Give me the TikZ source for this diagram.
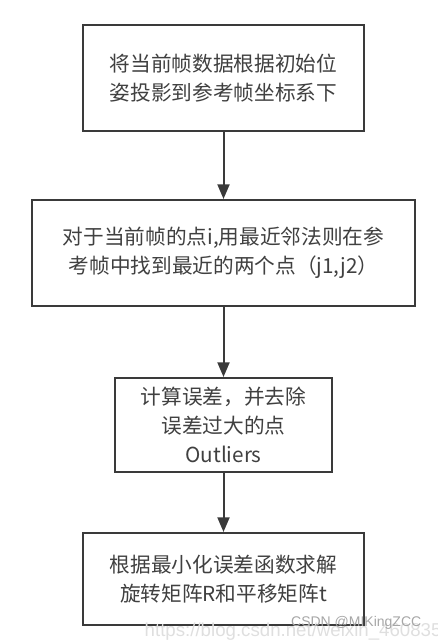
\documentclass[tikz,border=0pt]{standalone}
\usepackage{fontspec}
\setmainfont{Noto Sans CJK SC}
\newfontfamily\markfont{Liberation Sans}
\usetikzlibrary{arrows.meta}

\definecolor{boxline}{HTML}{3A3A3A}
\definecolor{boxtext}{HTML}{404040}

\begin{document}
\begin{tikzpicture}[x=0.75pt,y=-0.75pt,
    stepbox/.style={draw=boxline,line width=1.5pt,fill=white,align=center,
      text=boxtext,font=\fontsize{15.5}{21.5}\selectfont,inner sep=0pt},
    flow/.style={draw=boxline,line width=1.5pt,-{Triangle[width=9pt,length=11pt]}}]
  \useasboundingbox (0,0) rectangle (438,643);
  \clip (0,0) rectangle (438,643);
  \node[stepbox,minimum width=210.75pt,minimum height=79.5pt] (project) at (223.5,78)
    {将当前帧数据根据初始位\\姿投影到参考帧坐标系下};
  \node[stepbox,minimum width=287.25pt,minimum height=79.5pt] (match) at (223.5,253)
    {对于当前帧的点i,用最近邻法则在参\\考帧中找到最近的两个点（j1,j2）};
  \node[stepbox,minimum width=162.75pt,minimum height=70.5pt] (error) at (223.5,425)
    {计算误差，并去除\\误差过大的点\\Outliers};
  \node[stepbox,minimum width=210.75pt,minimum height=69pt] (solve) at (223.5,579)
    {根据最小化误差函数求解\\旋转矩阵R和平移矩阵t};
  \draw[flow] (project) -- (match);
  \draw[flow] (match) -- (error);
  \draw[flow] (error) -- (solve);
  % watermark
  \node[anchor=west,text=gray!25,font=\markfont\fontsize{14}{14}\selectfont] (url) at (140,632)
    {https://blog.csdn.net/weixin\_46083546};
  \node[anchor=east,text=gray!70,font=\markfont\fontsize{10.5}{10.5}\selectfont] (mark) at (426,623)
    {CSDN @MIKingZCC};
\end{tikzpicture}
\end{document}
